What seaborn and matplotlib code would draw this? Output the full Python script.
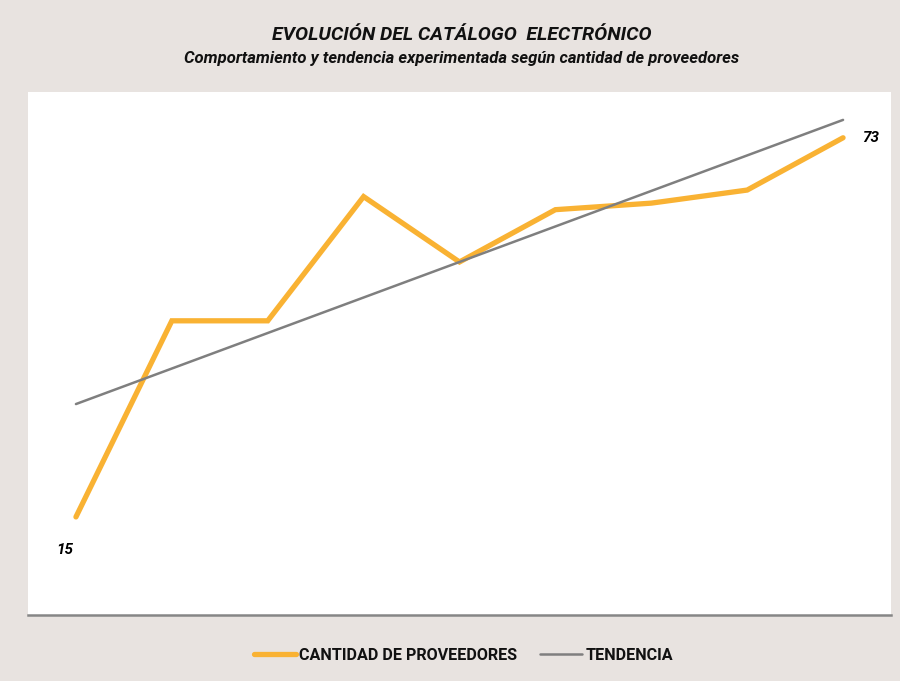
import numpy as np
import pandas as pd
import matplotlib
matplotlib.use("Agg")
import matplotlib.pyplot as plt
import seaborn as sns

sns.set_style("white")
plt.rcParams['font.family'] = ['Roboto', 'DejaVu Sans']

periodos = [1, 2, 3, 4, 5, 6, 7, 8, 9]
proveedores = [15, 45, 45, 64, 54, 62, 63, 65, 73]
titulo = "EVOLUCIÓN DEL CATÁLOGO  ELECTRÓNICO"
subtitulo = "Comportamiento y tendencia experimentada según cantidad de proveedores"
serie_nombre = "CANTIDAD DE PROVEEDORES"
tendencia_nombre = "TENDENCIA"

coef = np.polyfit(periodos, proveedores, 1)
tendencia = list(np.polyval(coef, periodos))

df = pd.DataFrame({"periodo": periodos, "valor": proveedores})
dft = pd.DataFrame({"periodo": periodos, "valor": tendencia})

bg = "#e8e3e0"
orange = "#f9b233"
gray = "#7f7f7f"

fig = plt.figure(figsize=(9, 6.81), dpi=100, facecolor=bg)
ax = fig.add_axes([28/900, 1-615/681, (891-28)/900, (615-92)/681])
ax.set_facecolor("white")

sns.lineplot(data=df, x="periodo", y="valor", ax=ax, color=orange, lw=3.8,
             solid_capstyle="round", solid_joinstyle="miter", label=serie_nombre)
sns.lineplot(data=dft, x="periodo", y="valor", ax=ax, color=gray, lw=1.8,
             label=tendencia_nombre)

ax.set_xlim(0.5, 9.5)
ax.set_ylim(0, 80)
ax.set_xticks([])
ax.set_yticks([])
ax.set_xlabel("")
ax.set_ylabel("")
for s in ["top", "left", "right"]:
    ax.spines[s].set_visible(False)
ax.spines["bottom"].set_color("#868686")
ax.spines["bottom"].set_linewidth(1.8)

ax.annotate(str(proveedores[0]), (periodos[0], proveedores[0]), xytext=(-8, -24),
            textcoords="offset points", ha="center", va="center",
            fontsize=11, fontweight="bold", fontstyle="italic", color="black")
ax.annotate(str(proveedores[-1]), (periodos[-1], proveedores[-1]), xytext=(20, 0),
            textcoords="offset points", ha="center", va="center",
            fontsize=11, fontweight="bold", fontstyle="italic", color="black")

fig.text(0.513, 1-35/681, titulo, ha="center", va="center", fontsize=14,
         fontweight="bold", fontstyle="italic", color="#111111")
fig.text(0.513, 1-58/681, subtitulo, ha="center", va="center", fontsize=12,
         fontweight="bold", fontstyle="italic", color="#111111")

leg = ax.legend(loc="center", bbox_to_anchor=(0.515, 1-655/681), bbox_transform=fig.transFigure,
                ncol=2, frameon=False, handlelength=2.6, handletextpad=0.2,
                columnspacing=1.44, prop={"weight": "bold", "size": 11.6})
for t in leg.get_texts():
    t.set_color("#111111")

fig.savefig("out.png", dpi=100, facecolor=bg)
